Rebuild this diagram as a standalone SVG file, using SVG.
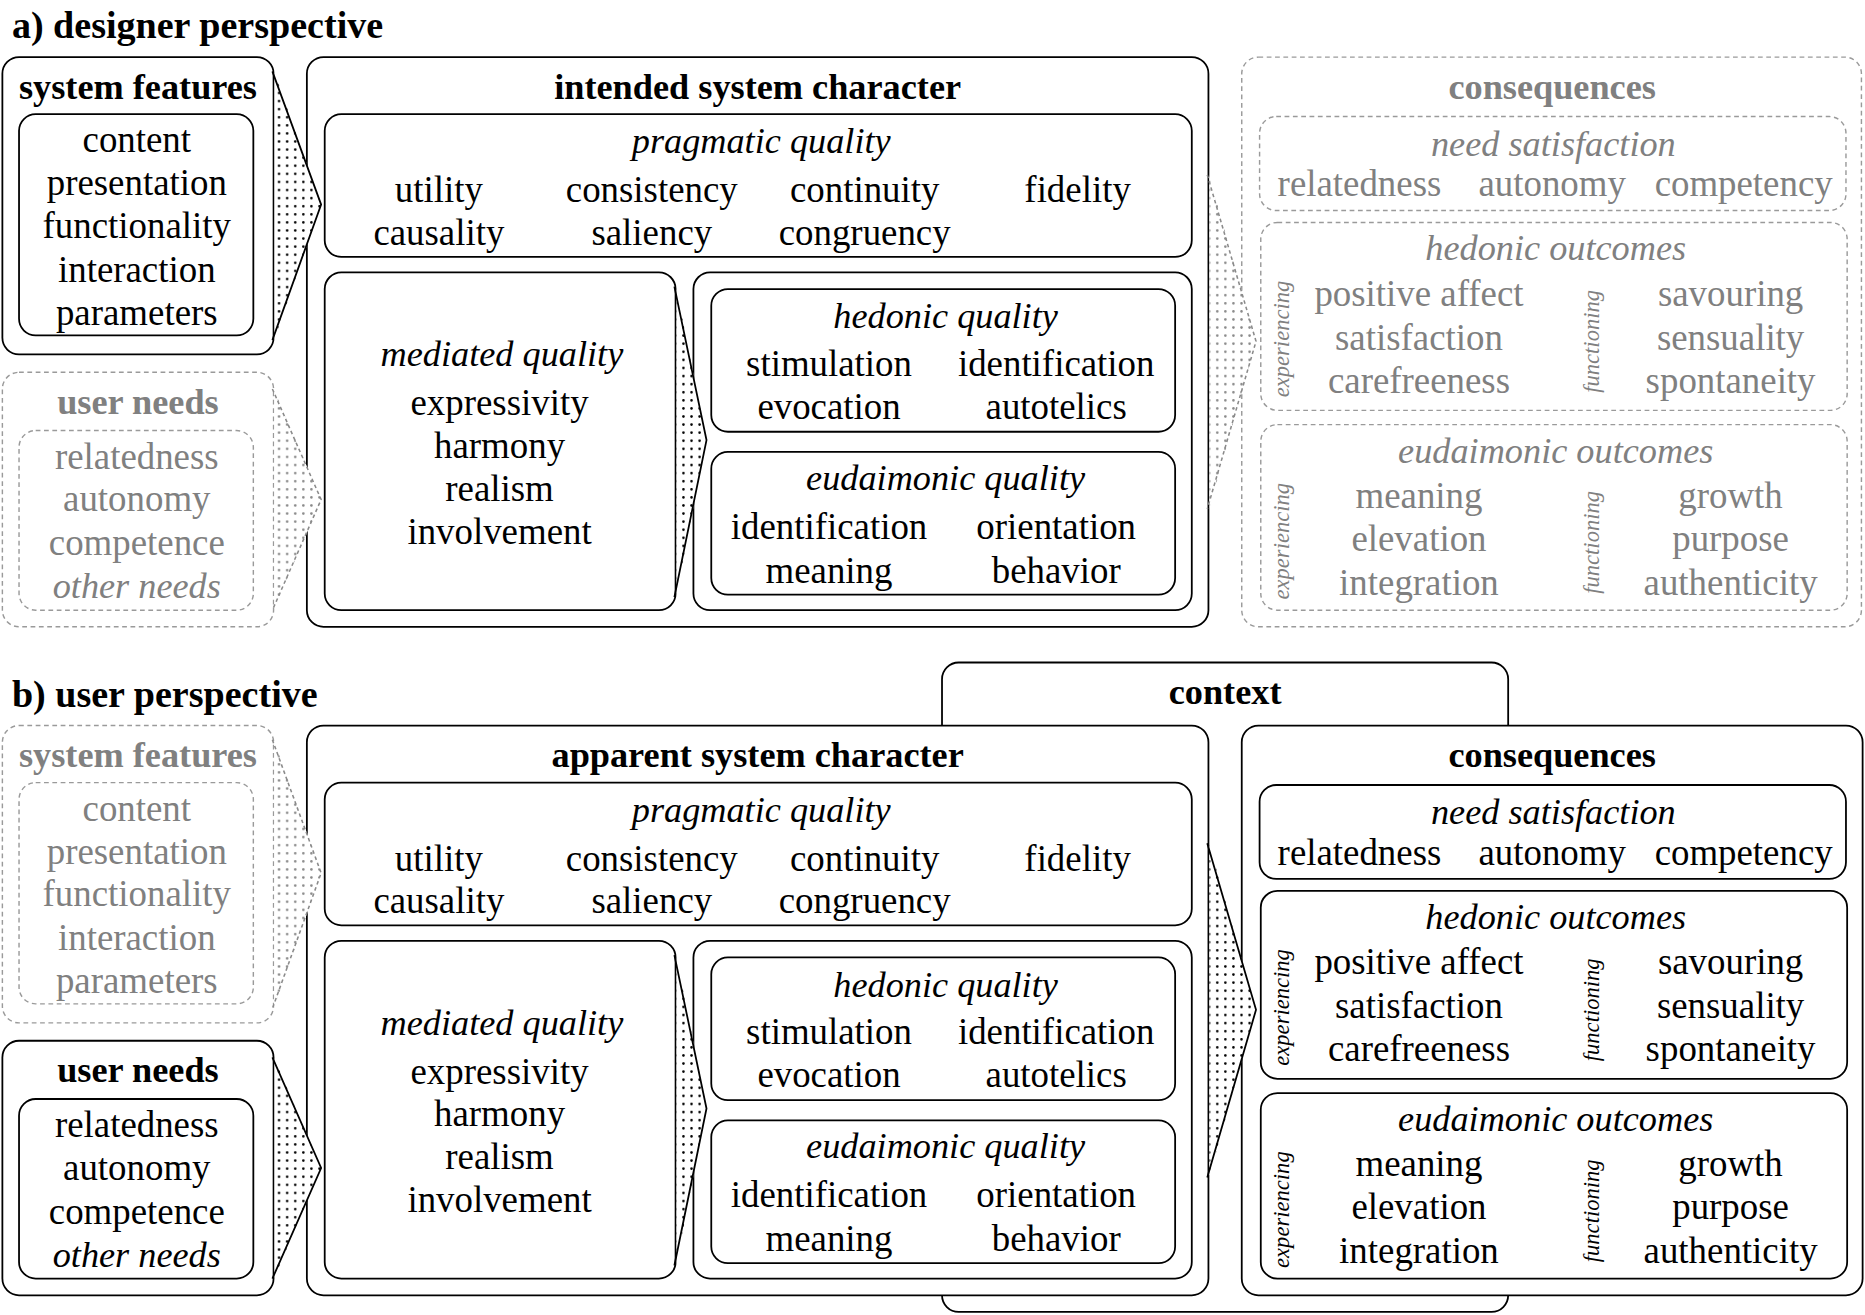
<svg xmlns="http://www.w3.org/2000/svg" width="1865" height="1315" viewBox="0 0 1865 1315">
<defs>
<style>
.box{fill:#fff;stroke:#000;stroke-width:1.5}
.dbox{fill:#fff;stroke:#9a9a9a;stroke-width:1.2;stroke-dasharray:4 3}
.cf{fill:#fff;stroke:none}
.cs{fill:none;stroke:#000;stroke-width:1.5}
.cg{fill:none;stroke:#8a8a8a;stroke-width:1.3;stroke-dasharray:3 2.5}
text{font-family:'Liberation Serif','DejaVu Serif',serif;font-size:31px;text-anchor:middle;fill:#000}
.b{font-weight:bold;font-size:30.5px}
.i{font-style:italic;font-size:30.5px}
.v{font-style:italic;font-size:19px}
.g{fill:#808080}
.h{text-anchor:start;font-weight:bold;font-size:32px}
</style>
<pattern id="dots" patternUnits="userSpaceOnUse" width="6.8" height="6.8">
<circle cx="3.4" cy="3.4" r="1.05" fill="#000"/>
</pattern>
<pattern id="gdots" patternUnits="userSpaceOnUse" width="6.8" height="6.8">
<circle cx="3.4" cy="3.4" r="1.05" fill="#888"/>
</pattern>
</defs>
<rect width="1865" height="1315" fill="#fff"/>
<g transform="scale(1.18941)" font-family="Liberation Serif, DejaVu Serif, serif">
<text class="h" x="10" y="32">a) designer perspective</text>
<text class="h" x="10" y="594">b) user perspective</text>

<!-- context (behind) -->
<g id="context">
<rect class="box" x="792" y="557" width="476" height="546" rx="14"/>
<text class="b" x="1030" y="592">context</text>
</g>

<!-- ===== section a ===== -->
<g id="a-system-features">
<rect class="box" x="2" y="48" width="228" height="250" rx="14"/>
<text class="b" x="116" y="83">system features</text>
<rect class="box" x="16" y="96" width="197" height="186" rx="14"/>
<text x="115" y="128">content</text>
<text x="115" y="164">presentation</text>
<text x="115" y="200">functionality</text>
<text x="115" y="237">interaction</text>
<text x="115" y="273">parameters</text>
</g>
<g id="a-user-needs">
<rect class="dbox" x="2" y="313" width="228" height="214" rx="14"/>
<text class="b g" x="116" y="348">user needs</text>
<rect class="dbox" x="16" y="362" width="197" height="151" rx="14"/>
<text class="g" x="115" y="394">relatedness</text>
<text class="g" x="115" y="430">autonomy</text>
<text class="g" x="115" y="467">competence</text>
<text class="i g" x="115" y="503">other needs</text>
</g>
<g id="a-intended-system-character">
<rect class="box" x="258" y="48" width="758" height="479" rx="14"/>
<text class="b" x="637" y="83">intended system character</text>
<g id="a-pragmatic">
<rect class="box" x="273" y="96" width="729" height="120" rx="14"/>
<text class="i" x="640" y="129">pragmatic quality</text>
<text x="369" y="170">utility</text>
<text x="548" y="170">consistency</text>
<text x="727" y="170">continuity</text>
<text x="906" y="170">fidelity</text>
<text x="369" y="206">causality</text>
<text x="548" y="206">saliency</text>
<text x="727" y="206">congruency</text>
</g>
<g id="a-mediated">
<rect class="box" x="273" y="229" width="295" height="284" rx="14"/>
<text class="i" x="422" y="308">mediated quality</text>
<text x="420" y="349">expressivity</text>
<text x="420" y="385">harmony</text>
<text x="420" y="421">realism</text>
<text x="420" y="457">involvement</text>
</g>
<g id="a-hedonic-eudaimonic">
<rect class="box" x="583" y="229" width="419" height="284" rx="14"/>
<rect class="box" x="598" y="243" width="390" height="120" rx="14"/>
<text class="i" x="795" y="276">hedonic quality</text>
<text x="697" y="316">stimulation</text>
<text x="888" y="316">identification</text>
<text x="697" y="352">evocation</text>
<text x="888" y="352">autotelics</text>
<rect class="box" x="598" y="380" width="390" height="120" rx="14"/>
<text class="i" x="795" y="412">eudaimonic quality</text>
<text x="697" y="453">identification</text>
<text x="888" y="453">orientation</text>
<text x="697" y="490">meaning</text>
<text x="888" y="490">behavior</text>
</g>
</g>
<g id="a-consequences">
<rect class="dbox" x="1044" y="48" width="521" height="479" rx="14"/>
<text class="b g" x="1305" y="83">consequences</text>
<rect class="dbox" x="1059" y="98" width="493" height="79" rx="14"/>
<text class="i g" x="1306" y="131">need satisfaction</text>
<text class="g" x="1143" y="165">relatedness</text>
<text class="g" x="1305" y="165">autonomy</text>
<text class="g" x="1466" y="165">competency</text>
<rect class="dbox" x="1060" y="187" width="493" height="158" rx="14"/>
<text class="i g" x="1308" y="219">hedonic outcomes</text>
<text class="v g" transform="translate(1084,285) rotate(-90)">experiencing</text>
<text class="v g" transform="translate(1344,287) rotate(-90)">functioning</text>
<text class="g" x="1193" y="257">positive affect</text>
<text class="g" x="1193" y="294">satisfaction</text>
<text class="g" x="1193" y="330">carefreeness</text>
<text class="g" x="1455" y="257">savouring</text>
<text class="g" x="1455" y="294">sensuality</text>
<text class="g" x="1455" y="330">spontaneity</text>
<rect class="dbox" x="1060" y="357" width="493" height="156" rx="14"/>
<text class="i g" x="1308" y="389">eudaimonic outcomes</text>
<text class="v g" transform="translate(1084,455) rotate(-90)">experiencing</text>
<text class="v g" transform="translate(1344,456) rotate(-90)">functioning</text>
<text class="g" x="1193" y="427">meaning</text>
<text class="g" x="1193" y="463">elevation</text>
<text class="g" x="1193" y="500">integration</text>
<text class="g" x="1455" y="427">growth</text>
<text class="g" x="1455" y="463">purpose</text>
<text class="g" x="1455" y="500">authenticity</text>
</g>

<!-- ===== section b ===== -->
<g id="b-system-features">
<rect class="dbox" x="2" y="610" width="228" height="250" rx="14"/>
<text class="b g" x="116" y="645">system features</text>
<rect class="dbox" x="16" y="658" width="197" height="186" rx="14"/>
<text class="g" x="115" y="690">content</text>
<text class="g" x="115" y="726">presentation</text>
<text class="g" x="115" y="762">functionality</text>
<text class="g" x="115" y="799">interaction</text>
<text class="g" x="115" y="835">parameters</text>
</g>
<g id="b-user-needs">
<rect class="box" x="2" y="875" width="228" height="214" rx="14"/>
<text class="b" x="116" y="910">user needs</text>
<rect class="box" x="16" y="924" width="197" height="151" rx="14"/>
<text x="115" y="956">relatedness</text>
<text x="115" y="992">autonomy</text>
<text x="115" y="1029">competence</text>
<text class="i" x="115" y="1065">other needs</text>
</g>
<g id="b-apparent-system-character" transform="translate(0,562)">
<rect class="box" x="258" y="48" width="758" height="479" rx="14"/>
<text class="b" x="637" y="83">apparent system character</text>
<g id="b-pragmatic">
<rect class="box" x="273" y="96" width="729" height="120" rx="14"/>
<text class="i" x="640" y="129">pragmatic quality</text>
<text x="369" y="170">utility</text>
<text x="548" y="170">consistency</text>
<text x="727" y="170">continuity</text>
<text x="906" y="170">fidelity</text>
<text x="369" y="206">causality</text>
<text x="548" y="206">saliency</text>
<text x="727" y="206">congruency</text>
</g>
<g id="b-mediated">
<rect class="box" x="273" y="229" width="295" height="284" rx="14"/>
<text class="i" x="422" y="308">mediated quality</text>
<text x="420" y="349">expressivity</text>
<text x="420" y="385">harmony</text>
<text x="420" y="421">realism</text>
<text x="420" y="457">involvement</text>
</g>
<g id="b-hedonic-eudaimonic">
<rect class="box" x="583" y="229" width="419" height="284" rx="14"/>
<rect class="box" x="598" y="243" width="390" height="120" rx="14"/>
<text class="i" x="795" y="276">hedonic quality</text>
<text x="697" y="316">stimulation</text>
<text x="888" y="316">identification</text>
<text x="697" y="352">evocation</text>
<text x="888" y="352">autotelics</text>
<rect class="box" x="598" y="380" width="390" height="120" rx="14"/>
<text class="i" x="795" y="412">eudaimonic quality</text>
<text x="697" y="453">identification</text>
<text x="888" y="453">orientation</text>
<text x="697" y="490">meaning</text>
<text x="888" y="490">behavior</text>
</g>
</g>
<g id="b-consequences" transform="translate(0,562)">
<rect class="box" x="1044" y="48" width="522" height="479" rx="14"/>
<text class="b" x="1305" y="83">consequences</text>
<rect class="box" x="1059" y="98" width="493" height="79" rx="14"/>
<text class="i" x="1306" y="131">need satisfaction</text>
<text x="1143" y="165">relatedness</text>
<text x="1305" y="165">autonomy</text>
<text x="1466" y="165">competency</text>
<rect class="box" x="1060" y="187" width="493" height="158" rx="14"/>
<text class="i" x="1308" y="219">hedonic outcomes</text>
<text class="v" transform="translate(1084,285) rotate(-90)">experiencing</text>
<text class="v" transform="translate(1344,287) rotate(-90)">functioning</text>
<text x="1193" y="257">positive affect</text>
<text x="1193" y="294">satisfaction</text>
<text x="1193" y="330">carefreeness</text>
<text x="1455" y="257">savouring</text>
<text x="1455" y="294">sensuality</text>
<text x="1455" y="330">spontaneity</text>
<rect class="box" x="1060" y="357" width="493" height="156" rx="14"/>
<text class="i" x="1308" y="389">eudaimonic outcomes</text>
<text class="v" transform="translate(1084,455) rotate(-90)">experiencing</text>
<text class="v" transform="translate(1344,456) rotate(-90)">functioning</text>
<text x="1193" y="427">meaning</text>
<text x="1193" y="463">elevation</text>
<text x="1193" y="500">integration</text>
<text x="1455" y="427">growth</text>
<text x="1455" y="463">purpose</text>
<text x="1455" y="500">authenticity</text>
</g>

<!-- connectors (chevrons) -->
<g id="connectors">
<path class="cf" d="M230.8,61 L270,172 L230.8,285 Z"/>
<path d="M230.8,61 L270,172 L230.8,285 Z" fill="url(#dots)"/>
<path class="cs" d="M229,60 L270,172 L229,286"/>

<path class="cf" d="M230.6,328 L270,420 L230.6,512 Z"/>
<path d="M230.6,328 L270,420 L230.6,512 Z" fill="url(#gdots)"/>
<path class="cg" d="M229,327 L270,420 L229,513"/>

<path class="cf" d="M568.8,243 L594,370 L568.8,500 Z"/>
<path d="M568.8,243 L594,370 L568.8,500 Z" fill="url(#dots)"/>
<path class="cs" d="M567,241 L594,370 L567,502"/>

<path class="cf" d="M1016.8,148 L1056,287 L1016.8,427 Z"/>
<path d="M1016.8,148 L1056,287 L1016.8,427 Z" fill="url(#gdots)"/>
<path class="cg" d="M1015,147 L1056,287 L1015,428"/>

<path class="cf" d="M230.6,623 L270,734 L230.6,847 Z"/>
<path d="M230.6,623 L270,734 L230.6,847 Z" fill="url(#gdots)"/>
<path class="cg" d="M229,622 L270,734 L229,848"/>

<path class="cf" d="M230.8,890 L270,982 L230.8,1074 Z"/>
<path d="M230.8,890 L270,982 L230.8,1074 Z" fill="url(#dots)"/>
<path class="cs" d="M229,889 L270,982 L229,1075"/>

<path class="cf" d="M568.8,805 L594,932 L568.8,1062 Z"/>
<path d="M568.8,805 L594,932 L568.8,1062 Z" fill="url(#dots)"/>
<path class="cs" d="M567,803 L594,932 L567,1064"/>

<path class="cf" d="M1016.8,710 L1056,849 L1016.8,989 Z"/>
<path d="M1016.8,710 L1056,849 L1016.8,989 Z" fill="url(#dots)"/>
<path class="cs" d="M1015,709 L1056,849 L1015,990"/>
</g>
</g>
</svg>
